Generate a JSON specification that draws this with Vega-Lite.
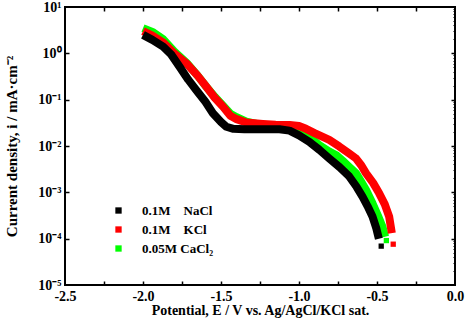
{
  "$schema": "https://vega.github.io/schema/vega-lite/v6.json",
  "width": 390,
  "height": 278,
  "autosize": "none",
  "padding": {"left": 65, "top": 7, "right": 10, "bottom": 34},
  "background": "white",
  "config": {
    "view": {"stroke": "black", "strokeWidth": 2},
    "axis": {"grid": false, "domain": false, "labelColor": "black", "titleColor": "black", "tickColor": "black"},
    "legend": {
      "orient": "none", "legendX": 47, "legendY": 197, "padding": 0,
      "symbolType": "square", "symbolSize": 40, "symbolStrokeWidth": 0,
      "labelFont": "Liberation Serif", "labelFontWeight": "bold", "labelFontSize": 13,
      "labelColor": "black", "labelOffset": 17, "rowPadding": 5
    }
  },
  "datasets": {
    "curves": [
      {"s": "0.05M CaCl₂", "E": -2.0, "i": 3.5},
      {"s": "0.05M CaCl₂", "E": -1.94, "i": 2.9},
      {"s": "0.05M CaCl₂", "E": -1.87, "i": 2.0},
      {"s": "0.05M CaCl₂", "E": -1.8, "i": 1.1},
      {"s": "0.05M CaCl₂", "E": -1.72, "i": 0.62},
      {"s": "0.05M CaCl₂", "E": -1.65, "i": 0.33},
      {"s": "0.05M CaCl₂", "E": -1.594, "i": 0.19},
      {"s": "0.05M CaCl₂", "E": -1.54, "i": 0.115},
      {"s": "0.05M CaCl₂", "E": -1.488, "i": 0.075},
      {"s": "0.05M CaCl₂", "E": -1.44, "i": 0.05},
      {"s": "0.05M CaCl₂", "E": -1.4, "i": 0.042},
      {"s": "0.05M CaCl₂", "E": -1.338, "i": 0.0335},
      {"s": "0.05M CaCl₂", "E": -1.25, "i": 0.029},
      {"s": "0.05M CaCl₂", "E": -1.125, "i": 0.027},
      {"s": "0.05M CaCl₂", "E": -1.05, "i": 0.022},
      {"s": "0.05M CaCl₂", "E": -0.99, "i": 0.019},
      {"s": "0.05M CaCl₂", "E": -0.934, "i": 0.0158},
      {"s": "0.05M CaCl₂", "E": -0.87, "i": 0.0105},
      {"s": "0.05M CaCl₂", "E": -0.806, "i": 0.0076},
      {"s": "0.05M CaCl₂", "E": -0.76, "i": 0.0063},
      {"s": "0.05M CaCl₂", "E": -0.72, "i": 0.0048},
      {"s": "0.05M CaCl₂", "E": -0.68, "i": 0.0036},
      {"s": "0.05M CaCl₂", "E": -0.635, "i": 0.0026},
      {"s": "0.05M CaCl₂", "E": -0.6, "i": 0.00166},
      {"s": "0.05M CaCl₂", "E": -0.57, "i": 0.00112},
      {"s": "0.05M CaCl₂", "E": -0.529, "i": 0.00058},
      {"s": "0.05M CaCl₂", "E": -0.495, "i": 0.00032},
      {"s": "0.05M CaCl₂", "E": -0.465, "i": 0.00018},
      {"s": "0.05M CaCl₂", "E": -0.448, "i": 0.00011},

      {"s": "0.1M\u00a0\u00a0\u00a0\u00a0KCl", "E": -2.0, "i": 3.0},
      {"s": "0.1M\u00a0\u00a0\u00a0\u00a0KCl", "E": -1.94, "i": 2.4},
      {"s": "0.1M\u00a0\u00a0\u00a0\u00a0KCl", "E": -1.87, "i": 1.7},
      {"s": "0.1M\u00a0\u00a0\u00a0\u00a0KCl", "E": -1.8, "i": 1.0},
      {"s": "0.1M\u00a0\u00a0\u00a0\u00a0KCl", "E": -1.722, "i": 0.61},
      {"s": "0.1M\u00a0\u00a0\u00a0\u00a0KCl", "E": -1.65, "i": 0.33},
      {"s": "0.1M\u00a0\u00a0\u00a0\u00a0KCl", "E": -1.594, "i": 0.19},
      {"s": "0.1M\u00a0\u00a0\u00a0\u00a0KCl", "E": -1.54, "i": 0.11},
      {"s": "0.1M\u00a0\u00a0\u00a0\u00a0KCl", "E": -1.488, "i": 0.071},
      {"s": "0.1M\u00a0\u00a0\u00a0\u00a0KCl", "E": -1.44, "i": 0.045},
      {"s": "0.1M\u00a0\u00a0\u00a0\u00a0KCl", "E": -1.4, "i": 0.038},
      {"s": "0.1M\u00a0\u00a0\u00a0\u00a0KCl", "E": -1.338, "i": 0.032},
      {"s": "0.1M\u00a0\u00a0\u00a0\u00a0KCl", "E": -1.232, "i": 0.03},
      {"s": "0.1M\u00a0\u00a0\u00a0\u00a0KCl", "E": -1.15, "i": 0.0288},
      {"s": "0.1M\u00a0\u00a0\u00a0\u00a0KCl", "E": -1.06, "i": 0.0285},
      {"s": "0.1M\u00a0\u00a0\u00a0\u00a0KCl", "E": -1.0, "i": 0.027},
      {"s": "0.1M\u00a0\u00a0\u00a0\u00a0KCl", "E": -0.955, "i": 0.0235},
      {"s": "0.1M\u00a0\u00a0\u00a0\u00a0KCl", "E": -0.9, "i": 0.019},
      {"s": "0.1M\u00a0\u00a0\u00a0\u00a0KCl", "E": -0.806, "i": 0.0135},
      {"s": "0.1M\u00a0\u00a0\u00a0\u00a0KCl", "E": -0.742, "i": 0.0098},
      {"s": "0.1M\u00a0\u00a0\u00a0\u00a0KCl", "E": -0.678, "i": 0.0069},
      {"s": "0.1M\u00a0\u00a0\u00a0\u00a0KCl", "E": -0.635, "i": 0.0054},
      {"s": "0.1M\u00a0\u00a0\u00a0\u00a0KCl", "E": -0.6, "i": 0.0038},
      {"s": "0.1M\u00a0\u00a0\u00a0\u00a0KCl", "E": -0.571, "i": 0.0026},
      {"s": "0.1M\u00a0\u00a0\u00a0\u00a0KCl", "E": -0.525, "i": 0.0016},
      {"s": "0.1M\u00a0\u00a0\u00a0\u00a0KCl", "E": -0.486, "i": 0.00095},
      {"s": "0.1M\u00a0\u00a0\u00a0\u00a0KCl", "E": -0.45, "i": 0.00055},
      {"s": "0.1M\u00a0\u00a0\u00a0\u00a0KCl", "E": -0.422, "i": 0.0003},
      {"s": "0.1M\u00a0\u00a0\u00a0\u00a0KCl", "E": -0.405, "i": 0.000132},

      {"s": "0.1M\u00a0\u00a0\u00a0\u00a0NaCl", "E": -2.0, "i": 2.5},
      {"s": "0.1M\u00a0\u00a0\u00a0\u00a0NaCl", "E": -1.94, "i": 1.95},
      {"s": "0.1M\u00a0\u00a0\u00a0\u00a0NaCl", "E": -1.871, "i": 1.39},
      {"s": "0.1M\u00a0\u00a0\u00a0\u00a0NaCl", "E": -1.82, "i": 0.95},
      {"s": "0.1M\u00a0\u00a0\u00a0\u00a0NaCl", "E": -1.765, "i": 0.51},
      {"s": "0.1M\u00a0\u00a0\u00a0\u00a0NaCl", "E": -1.71, "i": 0.27},
      {"s": "0.1M\u00a0\u00a0\u00a0\u00a0NaCl", "E": -1.658, "i": 0.16},
      {"s": "0.1M\u00a0\u00a0\u00a0\u00a0NaCl", "E": -1.6, "i": 0.09},
      {"s": "0.1M\u00a0\u00a0\u00a0\u00a0NaCl", "E": -1.552, "i": 0.051},
      {"s": "0.1M\u00a0\u00a0\u00a0\u00a0NaCl", "E": -1.5, "i": 0.033},
      {"s": "0.1M\u00a0\u00a0\u00a0\u00a0NaCl", "E": -1.466, "i": 0.026},
      {"s": "0.1M\u00a0\u00a0\u00a0\u00a0NaCl", "E": -1.42, "i": 0.0235},
      {"s": "0.1M\u00a0\u00a0\u00a0\u00a0NaCl", "E": -1.35, "i": 0.023},
      {"s": "0.1M\u00a0\u00a0\u00a0\u00a0NaCl", "E": -1.25, "i": 0.023},
      {"s": "0.1M\u00a0\u00a0\u00a0\u00a0NaCl", "E": -1.125, "i": 0.0229},
      {"s": "0.1M\u00a0\u00a0\u00a0\u00a0NaCl", "E": -1.061, "i": 0.0215},
      {"s": "0.1M\u00a0\u00a0\u00a0\u00a0NaCl", "E": -1.0, "i": 0.017},
      {"s": "0.1M\u00a0\u00a0\u00a0\u00a0NaCl", "E": -0.934, "i": 0.0123},
      {"s": "0.1M\u00a0\u00a0\u00a0\u00a0NaCl", "E": -0.87, "i": 0.0083},
      {"s": "0.1M\u00a0\u00a0\u00a0\u00a0NaCl", "E": -0.806, "i": 0.0054},
      {"s": "0.1M\u00a0\u00a0\u00a0\u00a0NaCl", "E": -0.74, "i": 0.0035},
      {"s": "0.1M\u00a0\u00a0\u00a0\u00a0NaCl", "E": -0.678, "i": 0.0022},
      {"s": "0.1M\u00a0\u00a0\u00a0\u00a0NaCl", "E": -0.63, "i": 0.0013},
      {"s": "0.1M\u00a0\u00a0\u00a0\u00a0NaCl", "E": -0.593, "i": 0.00081},
      {"s": "0.1M\u00a0\u00a0\u00a0\u00a0NaCl", "E": -0.56, "i": 0.0005},
      {"s": "0.1M\u00a0\u00a0\u00a0\u00a0NaCl", "E": -0.529, "i": 0.0003},
      {"s": "0.1M\u00a0\u00a0\u00a0\u00a0NaCl", "E": -0.505, "i": 0.00017},
      {"s": "0.1M\u00a0\u00a0\u00a0\u00a0NaCl", "E": -0.488, "i": 0.0001}
    ],
    "ends": [
      {"s": "0.05M CaCl₂", "E": -0.44, "i": 0.000091},
      {"s": "0.1M\u00a0\u00a0\u00a0\u00a0KCl", "E": -0.396, "i": 0.000076},
      {"s": "0.1M\u00a0\u00a0\u00a0\u00a0NaCl", "E": -0.473, "i": 0.000069}
    ]
  },
  "resolve": {"axis": {"x": "independent", "y": "independent"}},
  "layer": [
    {
      "data": {"name": "curves"},
      "mark": {"type": "line", "strokeWidth": 8, "strokeJoin": "round", "strokeCap": "butt"},
      "encoding": {
        "x": {
          "field": "E", "type": "quantitative",
          "scale": {"domain": [-2.5, 0], "nice": false, "zero": false},
          "axis": {
            "orient": "bottom", "values": [-2.5, -2, -1.5, -1, -0.5, 0],
            "labelExpr": "replace(format(datum.value, '.1f'), '−', '-')",
            "ticks": false, "labelPadding": 4, "labelFlush": false,
            "labelFont": "Liberation Serif", "labelFontWeight": "bold", "labelFontSize": 14,
            "title": "Potential, E / V vs. Ag/AgCl/KCl sat.",
            "titleFont": "Liberation Serif", "titleFontWeight": "bold", "titleFontSize": 14, "titlePadding": 0
          }
        },
        "y": {
          "field": "i", "type": "quantitative",
          "scale": {"type": "log", "domain": [0.00001, 10], "nice": false},
          "axis": {
            "orient": "left", "values": [0.00001, 0.0001, 0.001, 0.01, 0.1, 1, 10],
            "labelExpr": "round(log(datum.value) / LN10) == -5 ? '10⁻⁵' : round(log(datum.value) / LN10) == -4 ? '10⁻⁴' : round(log(datum.value) / LN10) == -3 ? '10⁻³' : round(log(datum.value) / LN10) == -2 ? '10⁻²' : round(log(datum.value) / LN10) == -1 ? '10⁻¹' : round(log(datum.value) / LN10) == 0 ? '10⁰' : '10¹'",
            "ticks": false, "labelPadding": 4, "labelFlush": false,
            "labelFont": "Liberation Serif", "labelFontWeight": "bold", "labelFontSize": 14,
            "title": "Current density, i / mA·cm⁻²",
            "titleFont": "Liberation Serif", "titleFontWeight": "bold", "titleFontSize": 15, "titlePadding": 18
          }
        },
        "color": {
          "field": "s", "type": "nominal",
          "scale": {"domain": ["0.1M\u00a0\u00a0\u00a0\u00a0NaCl", "0.1M\u00a0\u00a0\u00a0\u00a0KCl", "0.05M CaCl₂"], "range": ["#000000", "#ff0000", "#00ff00"]},
          "legend": {
            "title": null,
            "encode": {"symbols": {"update": {"fill": {"scale": "color", "field": "value"}, "stroke": {"value": "transparent"}}}}
          }
        }
      }
    },
    {
      "data": {"name": "ends"},
      "mark": {"type": "point", "shape": "square", "filled": true, "size": 28, "opacity": 1},
      "encoding": {
        "x": {"field": "E", "type": "quantitative", "axis": null},
        "y": {"field": "i", "type": "quantitative", "axis": null},
        "color": {"field": "s", "type": "nominal", "legend": null}
      }
    },
    {
      "data": {"name": "ends"},
      "mark": {"type": "point", "opacity": 0},
      "encoding": {
        "x": {"field": "E", "type": "quantitative",
          "axis": {"orient": "bottom", "values": [-2.25, -2, -1.75, -1.5, -1.25, -1, -0.75, -0.5, -0.25], "labels": false, "title": null, "tickSize": -4, "tickWidth": 1.5}},
        "y": {"field": "i", "type": "quantitative",
          "axis": {"orient": "left", "values": [0.0001, 0.001, 0.01, 0.1, 1], "labels": false, "title": null, "tickSize": -4, "tickWidth": 1.5}}
      }
    },
    {
      "data": {"name": "ends"},
      "mark": {"type": "point", "opacity": 0},
      "encoding": {
        "x": {"field": "E", "type": "quantitative",
          "axis": {"orient": "top", "values": [-2.25, -2, -1.75, -1.5, -1.25, -1, -0.75, -0.5, -0.25], "labels": false, "title": null, "tickSize": -4, "tickWidth": 1.5}},
        "y": {"field": "i", "type": "quantitative",
          "axis": {"orient": "right", "values": [0.0001, 0.001, 0.01, 0.1, 1], "labels": false, "title": null, "tickSize": -4, "tickWidth": 1.5}}
      }
    },
    {
      "data": {"name": "ends"},
      "mark": {"type": "point", "opacity": 0},
      "encoding": {
        "x": {"field": "E", "type": "quantitative", "axis": null},
        "y": {"field": "i", "type": "quantitative",
          "axis": {"orient": "right", "labels": false, "title": null, "tickSize": -2, "tickWidth": 1,
            "values": [0.00002, 0.00003, 0.00004, 0.00005, 0.00006, 0.00007, 0.00008, 0.00009,
                       0.0002, 0.0003, 0.0004, 0.0005, 0.0006, 0.0007, 0.0008, 0.0009,
                       0.002, 0.003, 0.004, 0.005, 0.006, 0.007, 0.008, 0.009,
                       0.02, 0.03, 0.04, 0.05, 0.06, 0.07, 0.08, 0.09,
                       0.2, 0.3, 0.4, 0.5, 0.6, 0.7, 0.8, 0.9,
                       2, 3, 4, 5, 6, 7, 8, 9]}}
      }
    }
  ]
}
